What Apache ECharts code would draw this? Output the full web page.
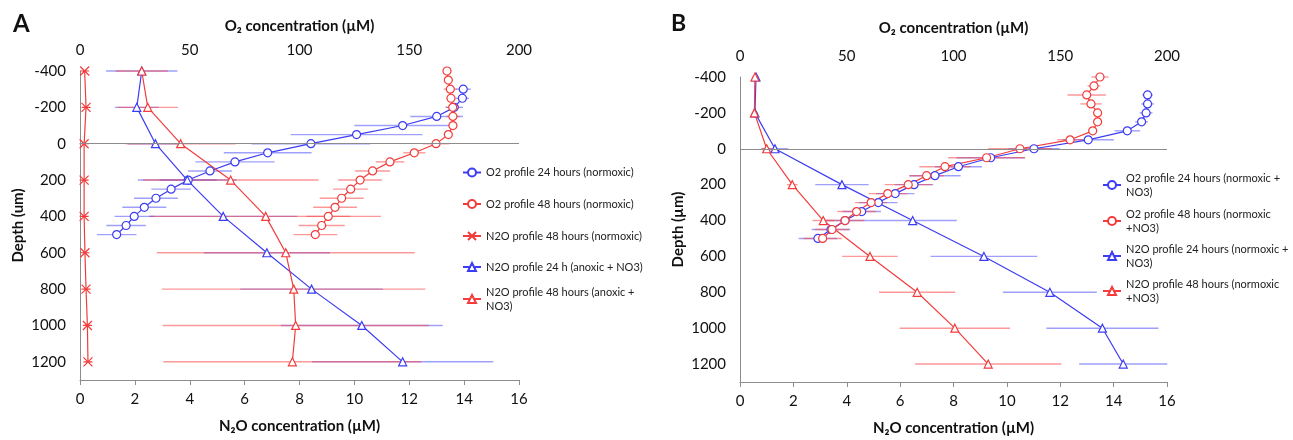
<!DOCTYPE html>
<html>
<head>
<meta charset="utf-8">
<script src="https://cdn.jsdelivr.net/npm/echarts@6/dist/echarts.min.js"></script>
<style>
  html, body { margin: 0; background: #fff; }
  #chart { width: 1293px; height: 440px; }
</style>
</head>
<body>
<div id="chart"></div>
<script>
// depths (µm)
const depthN2O = [-400, -200, 0, 200, 400, 600, 800, 1000, 1200];
const depthO2short = [-300, -250, -200, -150, -100, -50, 0, 50, 100, 150, 200, 250, 300, 350, 400, 450, 500];
const depthO2long = [-400, -350, -300, -250, -200, -150, -100, -50, 0, 50, 100, 150, 200, 250, 300, 350, 400, 450, 500];

// panel A
const aO2_24 = [174.6, 174.2, 170.5, 162.5, 147, 126, 105.2, 85.5, 70.6, 59.2, 49.3, 41.5, 34.6, 29.3, 24.7, 21, 16.7];
const aO2_24Err = [3.5, 3, 4, 12, 22, 30, 27, 20, 18, 10, 13, 9, 10, 10, 9, 9, 9];
const aO2_48 = [167.2, 167.8, 168.7, 169, 169.8, 169.9, 169.9, 167.8, 162.2, 152.3, 141.2, 133.3, 127.6, 123.3, 119.2, 116.2, 113.1, 110.1, 107.2];
const aO2_48Err = [2, 2, 3, 2, 3, 3, 2, 2, 6, 5, 6.5, 8, 10, 8, 10, 10, 10, 10.5, 10];
const aN2O_48norm = [0.17, 0.22, 0.15, 0.15, 0.15, 0.18, 0.22, 0.27, 0.29];
const aN2O_48normErr = [0.05, 0.05, 0.05, 0.05, 0.05, 0.05, 0.05, 0.05, 0.05];
const aN2O_24anox = [2.25, 2.07, 2.75, 3.91, 5.22, 6.81, 8.44, 10.27, 11.76];
const aN2O_24anoxErr = [1.3, 0.8, 1.0, 1.8, 2.7, 2.3, 2.6, 2.95, 3.3];
const aN2O_48anox = [2.25, 2.47, 3.67, 5.49, 6.77, 7.50, 7.79, 7.86, 7.74];
const aN2O_48anoxErr = [0.95, 1.1, 2.0, 3.2, 4.2, 4.7, 4.8, 4.85, 4.7];

// panel B
const bO2_24 = [190.9, 190.9, 190.2, 188.1, 181.4, 163.1, 137.7, 117.4, 102.3, 91.3, 81.5, 72.7, 64.8, 57, 49.2, 42.6, 36.5];
const bO2_24Err = [2.5, 3, 3, 3, 6, 12, 12, 16, 11, 12, 9, 9, 9, 9, 11, 9, 9];
const bO2_48 = [168.6, 165.8, 162.4, 164.4, 167.5, 167.5, 165.2, 154.6, 131.1, 115.5, 96, 87.4, 78.8, 69.2, 61.4, 54.6, 49.2, 43.1, 38.7];
const bO2_48Err = [4, 3, 9, 5, 2, 2, 2, 6, 15, 18, 12, 8, 11, 9, 7.5, 9, 9, 8, 9];
const bN2O_24 = [0.6, 0.56, 1.31, 3.82, 6.47, 9.14, 11.61, 13.58, 14.36];
const bN2O_24Err = [0.1, 0.1, 0.5, 1.0, 1.65, 2.0, 1.76, 2.1, 1.65];
const bN2O_48 = [0.56, 0.54, 1.0, 1.96, 3.12, 4.87, 6.64, 8.05, 9.3];
const bN2O_48Err = [0.1, 0.1, 0.2, 0.2, 0.4, 1.04, 1.43, 2.07, 2.74];

const FONT = 'Lato, "Noto Sans", sans-serif';
const BLUE = '#3c3cf2';
const RED = '#f23c3c';
const BLUE_ERR = 'rgba(80,80,250,0.55)';
const RED_ERR = 'rgba(250,70,70,0.55)';
const AXIS_GRAY = '#8c8c8c';

const chart = echarts.init(document.getElementById('chart'));

function pairs(vals, depths) {
  return vals.map((v, i) => [v, depths[i]]);
}

function lineSeries(name, xIdx, yIdx, vals, depths, color, symbol, size) {
  return {
    type: 'line',
    name: name,
    xAxisIndex: xIdx,
    yAxisIndex: yIdx,
    data: pairs(vals, depths),
    symbol: symbol,
    symbolSize: size,
    lineStyle: { color: color, width: 1.2 },
    itemStyle: { color: '#fff', borderColor: color, borderWidth: 1.2 },
    z: 3
  };
}

function errSeries(xIdx, yIdx, vals, depths, errs, color) {
  return {
    type: 'custom',
    name: 'err',
    xAxisIndex: xIdx,
    yAxisIndex: yIdx,
    silent: true,
    z: 1,
    data: vals.map((v, i) => [v, depths[i], errs[i]]),
    renderItem: (params, api) => {
      const x = api.value(0), y = api.value(1), e = api.value(2);
      const p1 = api.coord([x - e, y]);
      const p2 = api.coord([x + e, y]);
      return {
        type: 'line',
        shape: { x1: p1[0], y1: p1[1], x2: p2[0], y2: p2[1] },
        style: { stroke: color, lineWidth: 1.4 }
      };
    }
  };
}

function legendItem(name, text, left, cy, wrapped) {
  return {
    data: [{ name: name, textStyle: wrapped ? { padding: [14, 0, 0, 0] } : {} }],
    left: left,
    top: wrapped ? cy - 21 : cy - 7,
    padding: 0,
    itemWidth: 18,
    itemHeight: 10,
    selectedMode: false,
    formatter: () => text,
    textStyle: { fontSize: 11, lineHeight: 14, color: '#222', fontFamily: FONT }
  };
}

const tickLabel = { color: '#111', fontSize: 15, fontFamily: FONT };
const axisName = { color: '#111', fontSize: 15, fontWeight: 'bold', fontFamily: FONT };

function bottomAxis(grid, gap) {
  return {
    gridIndex: grid, type: 'value', position: 'bottom', min: 0, max: 16, interval: 2,
    name: 'N₂O concentration (µM)', nameLocation: 'middle', nameGap: gap, nameTextStyle: axisName,
    axisLine: { show: true, onZero: false, lineStyle: { color: AXIS_GRAY } },
    axisTick: { show: true, length: 5, lineStyle: { color: AXIS_GRAY } },
    axisLabel: Object.assign({ margin: 12 }, tickLabel),
    splitLine: { show: false }
  };
}
function topAxis(grid, gap) {
  return {
    gridIndex: grid, type: 'value', position: 'top', min: 0, max: 200, interval: 50,
    name: 'O₂ concentration (µM)', nameLocation: 'middle', nameGap: gap, nameTextStyle: axisName,
    axisLine: { show: false, onZero: false },
    axisTick: { show: false },
    axisLabel: Object.assign({ margin: 13 }, tickLabel),
    splitLine: { show: false }
  };
}
function depthAxis(grid, name) {
  return {
    gridIndex: grid, type: 'value', inverse: true, min: -400, max: 1300, interval: 200,
    name: name, nameLocation: 'middle', nameGap: 54, nameTextStyle: axisName,
    axisLine: { show: true, onZero: false, lineStyle: { color: AXIS_GRAY } },
    axisTick: { show: false },
    axisLabel: Object.assign({ margin: 14, showMaxLabel: false, formatter: v => String(v) }, tickLabel),
    splitLine: { show: false }
  };
}

const zeroLine = {
  silent: true, symbol: 'none', label: { show: false },
  lineStyle: { color: AXIS_GRAY, type: 'solid', width: 1 },
  data: [{ yAxis: 0 }]
};

const names = {
  a1: 'O2 profile 24 hours (normoxic)',
  a2: 'O2 profile 48 hours (normoxic)',
  a3: 'N2O profile 48 hours (normoxic)',
  a4: 'N2O profile 24 h (anoxic + NO3)',
  a5: 'N2O profile 48 hours (anoxic + NO3)',
  b1: 'O2 profile 24 hours (normoxic + NO3)',
  b2: 'O2 profile 48 hours (normoxic +NO3)',
  b3: 'N2O profile 24 hours (normoxic + NO3)',
  b4: 'N2O profile 48 hours (normoxic +NO3)'
};

const xSymbol = 'path://M0,0L10,10M0,10L10,0M0,5L10,5';

const option = {
  animation: false,
  backgroundColor: '#fff',
  title: [
    { text: 'A', left: 8, top: 7, textStyle: { fontSize: 24, fontWeight: 'bold', color: '#111', fontFamily: FONT } },
    { text: 'B', left: 666, top: 7, textStyle: { fontSize: 23, fontWeight: 'bold', color: '#111', fontFamily: FONT } }
  ],
  grid: [
    { left: 80, top: 71, width: 439, height: 309, outerBoundsMode: 'none' },
    { left: 740, top: 77, width: 427, height: 305, outerBoundsMode: 'none' }
  ],
  xAxis: [bottomAxis(0, 39), topAxis(0, 37), bottomAxis(1, 39), topAxis(1, 41)],
  yAxis: [depthAxis(0, 'Depth (um)'), depthAxis(1, 'Depth (µm)')],
  legend: [
    legendItem(names.a1, 'O2 profile 24 hours (normoxic)', 462, 172.5, false),
    legendItem(names.a2, 'O2 profile 48 hours (normoxic)', 462, 204, false),
    legendItem(names.a3, 'N2O profile 48 hours (normoxic)', 462, 236, false),
    legendItem(names.a4, 'N2O profile 24 h (anoxic + NO3)', 462, 267, false),
    legendItem(names.a5, 'N2O profile 48 hours (anoxic +\nNO3)', 462, 299, true),
    legendItem(names.b1, 'O2 profile 24 hours (normoxic +\nNO3)', 1102, 185, true),
    legendItem(names.b2, 'O2 profile 48 hours (normoxic\n+NO3)', 1102, 221, true),
    legendItem(names.b3, 'N2O profile 24 hours (normoxic +\nNO3)', 1102, 256, true),
    legendItem(names.b4, 'N2O profile 48 hours (normoxic\n+NO3)', 1102, 291, true)
  ],
  series: [
    // panel A error bars
    errSeries(1, 0, aO2_24, depthO2short, aO2_24Err, BLUE_ERR),
    errSeries(1, 0, aO2_48, depthO2long, aO2_48Err, RED_ERR),
    errSeries(0, 0, aN2O_48norm, depthN2O, aN2O_48normErr, RED_ERR),
    errSeries(0, 0, aN2O_24anox, depthN2O, aN2O_24anoxErr, BLUE_ERR),
    errSeries(0, 0, aN2O_48anox, depthN2O, aN2O_48anoxErr, RED_ERR),
    // panel A lines
    Object.assign(lineSeries(names.a1, 1, 0, aO2_24, depthO2short, BLUE, 'circle', 8), { markLine: zeroLine }),
    lineSeries(names.a2, 1, 0, aO2_48, depthO2long, RED, 'circle', 8),
    lineSeries(names.a3, 0, 0, aN2O_48norm, depthN2O, RED, xSymbol, 9),
    lineSeries(names.a4, 0, 0, aN2O_24anox, depthN2O, BLUE, 'triangle', 8),
    lineSeries(names.a5, 0, 0, aN2O_48anox, depthN2O, RED, 'triangle', 8),
    // panel B error bars
    errSeries(3, 1, bO2_24, depthO2short, bO2_24Err, BLUE_ERR),
    errSeries(3, 1, bO2_48, depthO2long, bO2_48Err, RED_ERR),
    errSeries(2, 1, bN2O_24, depthN2O, bN2O_24Err, BLUE_ERR),
    errSeries(2, 1, bN2O_48, depthN2O, bN2O_48Err, RED_ERR),
    // panel B lines
    Object.assign(lineSeries(names.b1, 3, 1, bO2_24, depthO2short, BLUE, 'circle', 8), { markLine: zeroLine }),
    lineSeries(names.b2, 3, 1, bO2_48, depthO2long, RED, 'circle', 8),
    lineSeries(names.b3, 2, 1, bN2O_24, depthN2O, BLUE, 'triangle', 8),
    lineSeries(names.b4, 2, 1, bN2O_48, depthN2O, RED, 'triangle', 8)
  ]
};

chart.setOption(option);
</script>
</body>
</html>
